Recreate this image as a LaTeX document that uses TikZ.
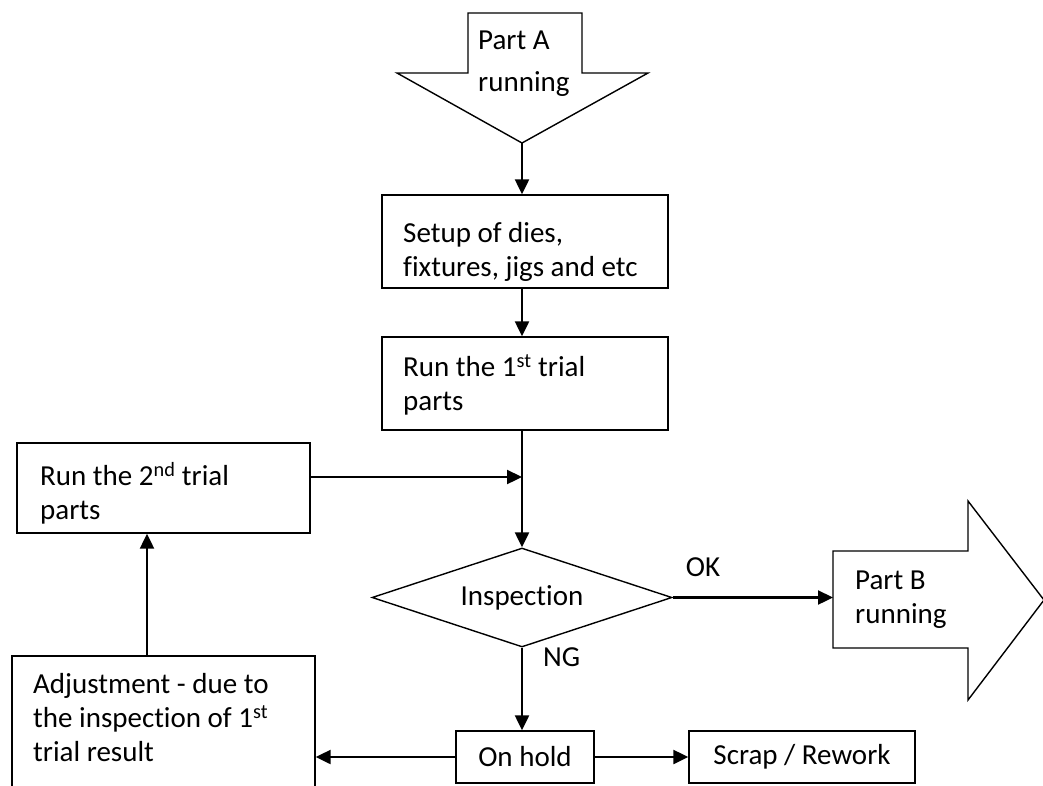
\documentclass[tikz,border=0pt]{standalone}
\usepackage{fontspec}
\setmainfont{Carlito}[Ligatures=NoCommon]
\usetikzlibrary{arrows.meta,shapes.geometric}
\tikzset{
  box/.style={draw, line width=1.4pt, inner sep=0pt},
  lbl/.style={align=left, anchor=west, inner sep=0pt, font=\fontsize{29}{34}\selectfont},
  txt/.style={inner sep=0pt, font=\fontsize{29}{34}\selectfont},
  conn/.style={line width=2.3pt, -{Triangle[length=15pt,width=14pt]}},
  bigarrow/.style={draw, line width=1.4pt, line join=miter}
}
\begin{document}
\begin{tikzpicture}[x=1pt,y=-1pt]
\clip (0,0) rectangle (1043,785);
\fill[white] (0,0) rectangle (1043,785);
% Part A arrow
\draw[bigarrow] (468,13) -- (582,13) -- (582,73) -- (648,73) -- (522,143) -- (397,73) -- (468,73) -- cycle;
\coordinate (atip) at (522,143);
\node[lbl, font=\fontsize{29}{42}\selectfont] (partA) at (478,64) {Part A\\running};
% boxes
\node[box, minimum width=286pt, minimum height=93pt] (setup) at (525,241.5) {};
\node[lbl] (setupT) at (403,251.5) {Setup of dies,\\fixtures, jigs and etc};
\node[box, minimum width=286pt, minimum height=93pt] (run1) at (525,383.5) {};
\node[lbl] (run1T) at (403,385) {Run the 1\textsuperscript{st} trial\\parts};
\node[box, minimum width=293pt, minimum height=90pt] (run2) at (163.5,488) {};
\node[lbl] (run2T) at (40,493) {Run the 2\textsuperscript{nd} trial\\parts};
\node[box, minimum width=303pt, minimum height=134pt] (adj) at (163.5,723) {};
\node[lbl] (adjT) at (33,718) {Adjustment - due to\\the inspection of 1\textsuperscript{st}\\trial result};
\node[box, txt, minimum width=138pt, minimum height=52pt] (hold) at (525,757) {On hold};
\node[box, txt, minimum width=226pt, minimum height=52pt] (scrap) at (802,757) {Scrap / Rework};
% decision
\node[draw, line width=1.4pt, diamond, aspect=3, inner sep=0pt, minimum width=300pt, minimum height=99pt, txt] (insp) at (522,597.5) {Inspection};
% Part B arrow
\draw[bigarrow] (833,551) -- (968,551) -- (968,501) -- (1044,600) -- (968,700) -- (968,648) -- (833,648) -- cycle;
\coordinate (bin) at (833,597.5);
\node[lbl] (partB) at (855,600) {Part B\\running};
% labels
\node[txt] (ok) at (703,567) {OK};
\node[txt, anchor=west] (ng) at (543,657) {NG};
% connectors
\draw[conn] (atip) -- (atip |- setup.north);
\draw[conn] (atip |- setup.south) -- (atip |- run1.north);
\draw[conn] (atip |- run1.south) -- (insp.north);
\draw[conn] (run2.east |- 0,477) -- (atip |- 0,477);
\draw[conn] (insp.east) -- (bin);
\draw[conn] (insp.south) -- (insp.south |- hold.north);
\draw[conn] (hold.east) -- (scrap.west);
\draw[conn] (hold.west) -- (hold.west -| adj.east);
\draw[conn] ([xshift=-16.5pt]adj.north) -- ([xshift=-16.5pt]run2.south);
\end{tikzpicture}
\end{document}
